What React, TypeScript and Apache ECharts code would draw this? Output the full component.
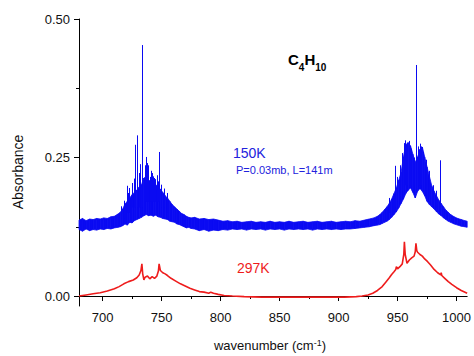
import React, { useEffect, useRef } from "react";
import * as echarts from "echarts";

// Blue (150K) spectrum: noisy band given by its lower / upper envelope
const WAVENUMBERS = [
  680, 683, 686, 689, 692, 695, 698, 701, 704, 707, 710, 713,
  715, 717, 719, 721, 723, 725, 727, 729, 731, 733, 735, 737, 739, 741, 743, 745, 747, 749,
  751, 753, 755, 757, 759, 761, 763, 765, 767, 769, 771, 773, 775,
  778, 782, 786, 790, 794, 798, 802, 806, 810, 814, 818, 822, 826, 830, 834, 838, 842, 846,
  850, 854, 858, 862, 866, 870, 874, 878, 882, 886, 890, 894, 898, 902, 906, 910, 914, 918,
  922, 926, 930, 933,
  935, 937, 939, 941, 943, 945, 947, 949, 951, 953, 955, 957, 959, 961, 963, 965, 967, 969,
  971, 973, 975, 977, 979, 981, 983, 985, 987, 989, 991, 993, 995, 998, 1001, 1004, 1007, 1009,
];
const BLUE_LOW = [
  0.12, 0.117, 0.121, 0.118, 0.12, 0.119, 0.121, 0.12, 0.122, 0.121, 0.123, 0.124,
  0.125, 0.127, 0.13, 0.128, 0.133, 0.132, 0.136, 0.138, 0.14, 0.142, 0.145, 0.147, 0.145, 0.146, 0.144, 0.146, 0.143, 0.142,
  0.14, 0.139, 0.138, 0.135, 0.134, 0.133, 0.13, 0.129, 0.127, 0.125, 0.123, 0.124, 0.122,
  0.121, 0.118, 0.12, 0.117, 0.119, 0.118, 0.12, 0.119, 0.121, 0.12, 0.121, 0.119, 0.121, 0.12, 0.121, 0.119, 0.121, 0.12,
  0.121, 0.119, 0.121, 0.12, 0.121, 0.12, 0.121, 0.119, 0.121, 0.12, 0.121, 0.12, 0.121, 0.12, 0.121, 0.121, 0.122, 0.123,
  0.124, 0.125, 0.127, 0.128,
  0.129, 0.131, 0.133, 0.135, 0.138, 0.142, 0.147, 0.152, 0.159, 0.167, 0.175, 0.185, 0.191, 0.195, 0.187, 0.177, 0.189, 0.194,
  0.189, 0.181, 0.171, 0.165, 0.161, 0.157, 0.152, 0.148, 0.145, 0.141, 0.138, 0.135, 0.133, 0.13, 0.128, 0.126, 0.125, 0.124,
];
const BLUE_HIGH = [
  0.137, 0.14, 0.136, 0.139, 0.138, 0.14, 0.139, 0.141, 0.14, 0.143, 0.144, 0.148,
  0.151, 0.157, 0.166, 0.171, 0.177, 0.183, 0.187, 0.191, 0.197, 0.201, 0.213, 0.215, 0.209, 0.207, 0.205, 0.201, 0.197, 0.193,
  0.187, 0.181, 0.177, 0.171, 0.165, 0.161, 0.157, 0.153, 0.149, 0.147, 0.144, 0.142, 0.141,
  0.142, 0.139, 0.14, 0.138, 0.139, 0.137, 0.135, 0.136, 0.134, 0.135, 0.133, 0.134, 0.135, 0.133, 0.134, 0.133, 0.135, 0.133,
  0.134, 0.133, 0.135, 0.133, 0.134, 0.135, 0.133, 0.134, 0.135, 0.133, 0.134, 0.135, 0.133, 0.134, 0.135, 0.134, 0.136, 0.135,
  0.137, 0.139, 0.141, 0.144,
  0.147, 0.151, 0.156, 0.161, 0.167, 0.175, 0.185, 0.195, 0.209, 0.223, 0.251, 0.273, 0.277, 0.271, 0.256, 0.241, 0.251, 0.263,
  0.269, 0.251, 0.233, 0.216, 0.199, 0.189, 0.181, 0.173, 0.167, 0.161, 0.155, 0.151, 0.147, 0.143, 0.14, 0.138, 0.136, 0.135,
];
// Sharp blue lines rising above the band
const BLUE_SPIKE_WN = [
  716, 718, 720.5, 722, 723, 725.5, 726.5, 728, 729.7, 731, 732, 734, 736, 737, 738, 739, 740.6, 741.5, 742, 743, 744,
  745, 746, 747, 748, 750, 752, 755,
  942.6, 947.7, 950, 952, 954, 955.5, 956.5, 957.5, 958.6, 960, 962, 964, 966, 967.5, 968.5, 969.5, 970.5, 972, 974, 977,
  980, 983, 985.8,
];
const BLUE_SPIKE_BASE = [
  0.14, 0.14, 0.15, 0.15, 0.15, 0.16, 0.16, 0.16, 0.16, 0.16, 0.16, 0.16, 0.17, 0.17, 0.17, 0.17, 0.17, 0.17, 0.17, 0.17, 0.17,
  0.17, 0.17, 0.17, 0.17, 0.16, 0.16, 0.15,
  0.15, 0.16, 0.17, 0.18, 0.19, 0.2, 0.2, 0.2, 0.2, 0.2, 0.2, 0.2, 0.2, 0.2, 0.2, 0.2, 0.2, 0.2, 0.19, 0.18,
  0.17, 0.16, 0.15,
];
const BLUE_SPIKE_PEAK = [
  0.162, 0.172, 0.199, 0.186, 0.195, 0.204, 0.212, 0.273, 0.29, 0.222, 0.238, 0.453, 0.236, 0.251, 0.24, 0.236, 0.215, 0.226, 0.222, 0.216, 0.213,
  0.211, 0.218, 0.207, 0.26, 0.201, 0.194, 0.186,
  0.177, 0.235, 0.215, 0.236, 0.258, 0.276, 0.281, 0.27, 0.276, 0.28, 0.266, 0.25, 0.417, 0.27, 0.265, 0.275, 0.27, 0.26, 0.246, 0.226,
  0.2, 0.19, 0.245,
];

// Red (297K) spectrum
const RED_WN = [
  680, 686, 692, 698, 704, 710, 714, 718, 722, 726, 729, 731, 732.5, 733.3, 734, 735, 736, 738, 740, 742, 744, 746,
  747.3, 747.9, 749, 751, 753, 755, 758, 762, 766, 770, 774, 778, 782, 786, 790, 791.7, 794, 798, 803, 810, 820, 835,
  850, 870, 890, 905, 915, 920, 925, 929, 933, 937, 940, 943, 945, 947, 948.5, 949, 950, 952, 954, 955.3, 955.8, 956.5,
  958, 960, 962, 964, 965, 965.6, 966.3, 967, 969, 971, 973, 975.5, 978, 981, 984, 986.6, 987, 987.5, 990, 993, 996,
  1000, 1004, 1009,
];
const RED_ABS = [
  0.0, 0.002, 0.004, 0.006, 0.009, 0.013, 0.017, 0.022, 0.026, 0.029, 0.033, 0.038, 0.046, 0.058, 0.04, 0.029, 0.034, 0.036, 0.031, 0.035, 0.032, 0.036,
  0.045, 0.058, 0.046, 0.042, 0.04, 0.037, 0.032, 0.027, 0.022, 0.018, 0.014, 0.011, 0.008, 0.007, 0.005, 0.007, 0.005, 0.003, 0.001, 0.0, -0.001, -0.002,
  -0.002, -0.002, -0.002, -0.002, -0.001, 0.0, 0.002, 0.005, 0.01, 0.017, 0.025, 0.033, 0.039, 0.044, 0.048, 0.053, 0.049, 0.053, 0.058, 0.075, 0.098, 0.075,
  0.059, 0.065, 0.069, 0.072, 0.08, 0.095, 0.082, 0.079, 0.075, 0.072, 0.067, 0.062, 0.056, 0.048, 0.042, 0.038, 0.042, 0.037, 0.032, 0.026, 0.021,
  0.015, 0.01, 0.005,
];

const X_TICKS = [700, 750, 800, 850, 900, 950, 1000];
const X_MINOR_TICKS = [725, 775, 825, 875, 925, 975];
const Y_TICKS = [0, 0.25, 0.5];
const Y_MINOR_TICKS = [0.125, 0.375];

export default function App() {
  const ref = useRef<HTMLDivElement>(null);
  useEffect(() => {
    const chart = echarts.init(ref.current!, null, { renderer: "svg" });
    const font = "Liberation Sans, Arial, sans-serif";
    const blue = "#0a0af2";
    const red = "#ee1c1c";
    // band segments between consecutive envelope samples
    const bandData = WAVENUMBERS.slice(0, -1).map((w, i) => [
      w,
      BLUE_LOW[i],
      BLUE_HIGH[i],
      WAVENUMBERS[i + 1],
      BLUE_LOW[i + 1],
      BLUE_HIGH[i + 1],
    ]);
    const spikeData = BLUE_SPIKE_WN.map((w, i) => ({
      coords: [
        [w, BLUE_SPIKE_BASE[i]],
        [w, BLUE_SPIKE_PEAK[i]],
      ],
    }));
    const redData = RED_WN.map((w, i) => [w, RED_ABS[i]]);

    const xMin = 680;
    const xMax = 1009;
    const yMin = -0.018;
    const yMax = 0.5;

    chart.setOption({
      animation: false,
      backgroundColor: "#fff",
      grid: { left: 79, top: 19, right: 4, bottom: 50, containLabel: false },
      xAxis: [
        {
          type: "value",
          min: xMin,
          max: xMax,
          position: "bottom",
          axisLine: { show: true, lineStyle: { color: "#000", width: 1 } },
          axisTick: { show: true, customValues: X_TICKS, length: 5, lineStyle: { color: "#000" } },
          axisLabel: {
            customValues: X_TICKS,
            margin: 5,
            fontSize: 13,
            color: "#111",
            fontFamily: font,
            formatter: (v: number) => String(v),
          },
          splitLine: { show: false },
        },
        {
          type: "value",
          min: xMin,
          max: xMax,
          position: "bottom",
          axisLine: { show: false },
          axisTick: { show: true, customValues: X_MINOR_TICKS, length: 3, lineStyle: { color: "#000" } },
          axisLabel: { show: false },
          splitLine: { show: false },
        },
      ],
      yAxis: [
        {
          type: "value",
          min: yMin,
          max: yMax,
          position: "left",
          axisLine: { show: true, lineStyle: { color: "#000", width: 1 } },
          axisTick: { show: true, customValues: Y_TICKS, length: 5, lineStyle: { color: "#000" } },
          axisLabel: {
            customValues: Y_TICKS,
            margin: 9,
            fontSize: 13,
            color: "#111",
            fontFamily: font,
            formatter: (v: number) => v.toFixed(2),
          },
          splitLine: { show: false },
        },
        {
          type: "value",
          min: yMin,
          max: yMax,
          position: "left",
          axisLine: { show: false },
          axisTick: { show: true, customValues: Y_MINOR_TICKS, length: 3, lineStyle: { color: "#000" } },
          axisLabel: { show: false },
          splitLine: { show: false },
        },
      ],
      series: [
        {
          type: "custom",
          name: "150K",
          data: bandData,
          encode: { x: [0, 3], y: [1, 2, 4, 5] },
          renderItem: (params: any, api: any) => {
            const p0 = api.coord([api.value(0), api.value(1)]);
            const p1 = api.coord([api.value(3), api.value(4)]);
            const p2 = api.coord([api.value(3), api.value(5)]);
            const p3 = api.coord([api.value(0), api.value(2)]);
            return {
              type: "polygon",
              shape: { points: [p0, p1, p2, p3] },
              style: { fill: blue, stroke: blue, lineWidth: 0.8 },
            };
          },
          z: 3,
        },
        {
          type: "lines",
          coordinateSystem: "cartesian2d",
          data: spikeData,
          lineStyle: { color: blue, width: 1, opacity: 1 },
          z: 4,
        },
        {
          type: "line",
          name: "297K",
          data: redData,
          symbol: "none",
          lineStyle: { color: red, width: 1.6 },
          z: 3,
        },
      ],
      graphic: [
        {
          type: "text",
          x: 18,
          y: 172,
          rotation: Math.PI / 2,
          style: {
            text: "Absorbance",
            fontSize: 14,
            fontFamily: font,
            fill: "#111",
            align: "center",
            verticalAlign: "middle",
          },
        },
        {
          type: "text",
          x: 270,
          y: 338,
          style: {
            text: "{a|wavenumber (cm}{s|-1}{a|)}",
            align: "center",
            verticalAlign: "top",
            rich: {
              a: { fontSize: 13, fontFamily: font, fill: "#111", lineHeight: 14, verticalAlign: "bottom" },
              s: { fontSize: 9, fontFamily: font, fill: "#111", lineHeight: 9, verticalAlign: "top" },
            },
          },
        },
        {
          type: "text",
          x: 288,
          y: 52,
          style: {
            text: "{c|C}{s|4}{c|H}{s|10}",
            align: "left",
            verticalAlign: "top",
            rich: {
              c: { fontSize: 15, fontWeight: "bold", fontFamily: font, fill: "#000", lineHeight: 16, verticalAlign: "top" },
              s: { fontSize: 10, fontWeight: "bold", fontFamily: font, fill: "#000", lineHeight: 10, verticalAlign: "top", padding: [10, 0, 0, 0] },
            },
          },
        },
        {
          type: "text",
          x: 233,
          y: 153,
          style: { text: "150K", fontSize: 14, fontFamily: font, fill: "#2222dd", align: "left", verticalAlign: "middle" },
        },
        {
          type: "text",
          x: 236,
          y: 170,
          style: { text: "P=0.03mb, L=141m", fontSize: 11, fontFamily: font, fill: "#2222dd", align: "left", verticalAlign: "middle" },
        },
        {
          type: "text",
          x: 237,
          y: 268,
          style: { text: "297K", fontSize: 14, fontFamily: font, fill: red, align: "left", verticalAlign: "middle" },
        },
      ],
    });
    return () => chart.dispose();
  }, []);
  return (
    <div
      ref={ref}
      style={{ position: "fixed", left: 0, top: 0, width: 474, height: 356, background: "#fff" }}
    />
  );
}
